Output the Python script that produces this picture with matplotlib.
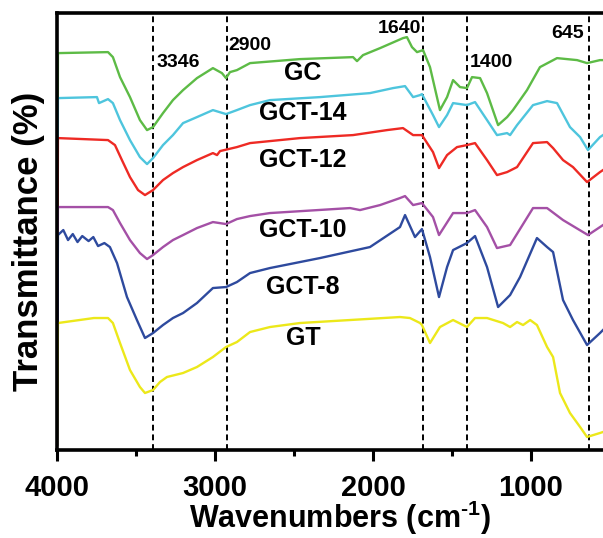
import numpy as np
import matplotlib.pyplot as plt

plt.rcParams['font.family'] = ['Liberation Sans', 'DejaVu Sans']
plt.rcParams['font.weight'] = 'bold'
plt.rcParams['mathtext.fontset'] = 'custom'
plt.rcParams['mathtext.bf'] = 'Liberation Sans:bold'
plt.rcParams['mathtext.rm'] = 'Liberation Sans:bold'

# FTIR spectra (wavenumber, transmittance in a.u., curves already offset)
gc_x = [4000, 3994, 3677, 3646, 3601, 3538, 3475, 3430, 3392, 3329, 3266, 3202, 3114, 3013, 2956,
        2930, 2905, 2861, 2778, 2462, 2126, 2101, 2063, 1955, 1810, 1785, 1753, 1721, 1683,
        1639, 1576, 1531, 1493, 1449, 1405, 1373, 1322, 1278, 1208, 1151, 1114, 1025, 943,
        835, 708, 645, 563, 544]
gc_y = [5, 397, 398, 393, 373, 353, 330, 320, 323, 337, 350, 360, 372, 382, 377,
        372, 378, 380, 387, 391, 393, 389, 395, 402, 412, 413, 403, 398, 400,
        383, 340, 353, 370, 363, 362, 373, 372, 357, 325, 333, 340, 360, 383,
        392, 390, 387, 390, 390]

gct14_x = [4000, 3994, 3747, 3734, 3677, 3646, 3601, 3538, 3475, 3430, 3392, 3329, 3266, 3202, 3114,
           3013, 2930, 2861, 2778, 2652, 2335, 2019, 1873, 1797, 1746, 1702, 1690, 1620, 1582,
           1531, 1493, 1405, 1354, 1278, 1215, 1151, 1132, 1088, 987, 898, 835, 753, 689,
           639, 563, 544]
gct14_y = [5, 352, 353, 347, 351, 347, 330, 310, 293, 286, 292, 305, 315, 327, 333,
           340, 336, 340, 345, 350, 353, 357, 362, 364, 353, 355, 356, 335, 323,
           335, 347, 345, 348, 330, 315, 317, 315, 325, 345, 349, 347, 323, 313,
           300, 313, 315]

gct12_x = [4000, 3994, 3677, 3633, 3589, 3538, 3487, 3443, 3392, 3329, 3266, 3202, 3114, 3013, 2987,
           2968, 2861, 2778, 2462, 2126, 1911, 1810, 1746, 1690, 1620, 1582, 1531, 1468, 1405,
           1354, 1278, 1215, 1151, 1088, 987, 898, 860, 797, 734, 645, 563, 544]
gct12_y = [5, 312, 310, 305, 290, 273, 260, 255, 260, 270, 277, 283, 290, 297, 295,
           299, 303, 307, 312, 315, 320, 322, 315, 315, 298, 282, 295, 303, 305,
           307, 290, 275, 278, 283, 307, 308, 302, 290, 283, 268, 278, 280]

gct10_x = [4000, 3994, 3677, 3646, 3601, 3538, 3475, 3430, 3392, 3329, 3266, 3202, 3114, 3013, 2930,
           2861, 2778, 2652, 2145, 2082, 1955, 1829, 1797, 1746, 1690, 1620, 1582, 1493, 1405,
           1354, 1278, 1215, 1132, 987, 898, 797, 639, 563, 544]
gct10_y = [5, 243, 243, 240, 227, 210, 197, 191, 195, 203, 210, 215, 222, 228, 226,
           231, 234, 237, 242, 240, 245, 252, 254, 245, 247, 233, 215, 237, 237,
           240, 223, 202, 205, 242, 242, 230, 215, 223, 225]

gct8_x = [4000, 3994, 3960, 3930, 3900, 3870, 3840, 3800, 3770, 3740, 3700, 3665, 3620, 3557, 3494,
          3443, 3392, 3329, 3266, 3202, 3114, 3013, 2930, 2861, 2778, 2652, 2335, 2019, 1829,
          1797, 1734, 1690, 1639, 1582, 1531, 1493, 1405, 1354, 1278, 1208, 1132, 1069, 962,
          898, 860, 797, 734, 645, 563, 544]
gct8_y = [5, 215, 220, 210, 216, 208, 214, 209, 213, 204, 207, 203, 187, 153, 130,
          112, 117, 125, 132, 137, 147, 162, 163, 168, 177, 182, 192, 203, 223,
          235, 213, 221, 193, 153, 183, 200, 207, 214, 183, 143, 155, 173, 212,
          203, 198, 150, 130, 105, 117, 120]

gt_x = [4000, 3994, 3766, 3677, 3646, 3601, 3538, 3475, 3443, 3392, 3348, 3304, 3202, 3114, 3013,
        2930, 2861, 2778, 2652, 2462, 2145, 1829, 1766, 1702, 1690, 1639, 1576, 1493, 1405,
        1354, 1278, 1177, 1132, 1088, 1050, 1005, 962, 898, 860, 816, 753, 689, 645, 563, 544]
gt_y = [5, 127, 132, 132, 127, 107, 80, 63, 57, 60, 68, 73, 77, 83, 93,
        103, 108, 118, 123, 127, 130, 133, 132, 127, 125, 107, 123, 130, 123,
        132, 132, 127, 123, 128, 125, 130, 125, 103, 93, 57, 37, 23, 13, 17, 18]

names = ['GC', 'GCT-14', 'GCT-12', 'GCT-10', 'GCT-8', 'GT']
colors = ['#5DBB46', '#4EC5DD', '#EE2A24', '#A450A6', '#2E4A9E', '#ECE81A']
label_y = [377, 337, 290, 220, 163, 112]
label_x = 2443

peaks = [3390, 2922, 1685, 1405, 633]
peak_labels = ['3346', '2900', '1640', '1400', '645']
peak_text_x = [3367, 2918, 1968, 1386, 873]
peak_text_y = [388, 405, 422, 388, 417]

fig = plt.figure(figsize=(6.03, 5.38), dpi=100)
ax = fig.add_axes([0.0945, 0.1636, 0.9055, 0.812])

xs = [gc_x, gct14_x, gct12_x, gct10_x, gct8_x, gt_x]
ys = [gc_y, gct14_y, gct12_y, gct10_y, gct8_y, gt_y]
for x, y, c in zip(xs, ys, colors):
    ax.plot(x, y, color=c, lw=1.7)

for name, ly in zip(names, label_y):
    ax.text(label_x, ly, name, ha='center', va='center', fontsize=18, fontweight='bold')

for p in peaks:
    ax.axvline(p, color='black', lw=1.4, ls=(0, (3, 2)), zorder=1)
for t, tx, ty in zip(peak_labels, peak_text_x, peak_text_y):
    ax.text(tx, ty, t, ha='left', va='center', fontsize=14, fontweight='bold')

ax.set_xlim(4000, 544)
ax.set_ylim(0, 437)
ax.set_xticks([4000, 3000, 2000, 1000])
ax.set_xticks([3500, 2500, 1500], minor=True)
ax.set_yticks([])
ax.tick_params(axis='x', which='major', direction='out', length=8, width=2.2, labelsize=21, pad=9)
ax.tick_params(axis='x', which='minor', direction='out', length=4, width=2.2)
for lab in ax.get_xticklabels():
    lab.set_fontweight('bold')
for s in ['top', 'bottom', 'left']:
    ax.spines[s].set_linewidth(2.6)
ax.spines['right'].set_visible(False)

ax.set_xlabel('Wavenumbers (cm$^{\\text{-1}}$)', fontsize=22, fontweight='bold')
ax.xaxis.set_label_coords(0.518, -0.112)
ax.set_ylabel('Transmittance (%)', fontsize=25, fontweight='bold')
ax.yaxis.set_label_coords(-0.022, 0.478)

fig.savefig('out.png', dpi=100)
